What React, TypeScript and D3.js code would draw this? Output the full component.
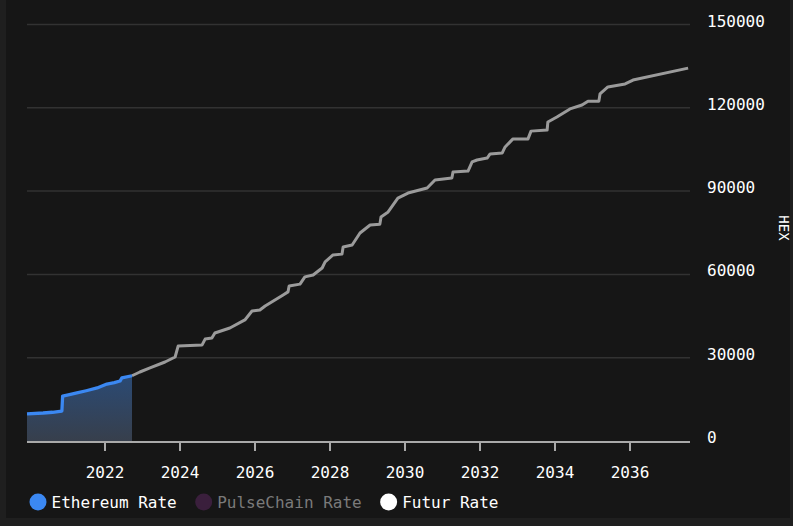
import { useMemo } from 'react';
import * as d3 from 'd3';

// Ethereum (realised) rate, HEX per share-unit, by fractional year
const ethYears = [2019.92, 2020.35, 2020.6, 2020.85, 2020.87, 2021.05, 2021.25, 2021.5, 2021.79, 2022.05, 2022.25, 2022.4, 2022.45, 2022.72];
const ethValues = [9800, 10080, 10350, 10800, 16200, 16700, 17300, 18100, 19100, 20500, 21000, 21600, 22700, 23500];

// Projected (future) rate
const futYears = [
  2022.72, 2022.93, 2023.2, 2023.6, 2023.87, 2023.95, 2024.59, 2024.67, 2024.85, 2024.93,
  2025.33, 2025.73, 2025.92, 2026.13, 2026.27, 2026.75, 2026.88, 2026.91, 2027.2, 2027.33,
  2027.55, 2027.79, 2027.87, 2028.08, 2028.32, 2028.35, 2028.59, 2028.8, 2029.07, 2029.33,
  2029.36, 2029.55, 2029.81, 2030.08, 2030.59, 2030.8, 2031.25, 2031.28, 2031.68, 2031.79,
  2031.92, 2032.19, 2032.27, 2032.59, 2032.67, 2032.88, 2033.28, 2033.36, 2033.79, 2033.81,
  2034.05, 2034.4, 2034.72, 2034.88, 2035.17, 2035.2, 2035.41, 2035.87, 2036.08, 2037.55,
];
const futValues = [
  23500, 24850, 26300, 28450, 30250, 34200, 34600, 36700, 37100, 38900,
  40700, 43600, 46800, 47200, 48600, 52600, 53700, 55800, 56500, 59100,
  59800, 62300, 64500, 67000, 67300, 69900, 70600, 74900, 77800, 78100,
  80700, 82500, 87500, 89300, 91100, 94000, 94700, 96900, 97200, 100500,
  101200, 101900, 103400, 103700, 105900, 108800, 108800, 111600, 112000, 114900,
  116700, 119600, 121000, 122400, 122400, 125000, 127500, 128600, 130000, 134300,
];

const xTicks = [2022, 2024, 2026, 2028, 2030, 2032, 2034, 2036];
const yTicks = [0, 30000, 60000, 90000, 120000, 150000];

const legendLabels = ['Ethereum Rate', 'PulseChain Rate', 'Futur Rate'];
const legendColors = ['#3b88f2', '#3a1f3c', '#ffffff'];
const legendTextColors = ['#ffffff', '#7a7a7a', '#ffffff'];

const W = 793;
const H = 526;
const FONT = '"DejaVu Sans Mono", "Liberation Mono", monospace';

export default function App() {
  const margin = { left: 27, right: 103, top: 24.5, bottom: 85 };

  const x = d3.scaleLinear().domain([2019.92, 2037.6]).range([margin.left, W - margin.right]);
  const y = d3.scaleLinear().domain([0, 150000]).range([H - margin.bottom, margin.top]);

  const eth = ethYears.map((t, i) => [t, ethValues[i]] as [number, number]);
  const fut = futYears.map((t, i) => [t, futValues[i]] as [number, number]);

  const line = d3
    .line<[number, number]>()
    .x((d) => x(d[0]))
    .y((d) => y(d[1]));

  const area = d3
    .area<[number, number]>()
    .x((d) => x(d[0]))
    .y0(y(0))
    .y1((d) => y(d[1]));

  // legend flow: circle, label, gap
  const charW = 9.63;
  const legend = useMemo(() => {
    let cx = 38;
    return legendLabels.map((label, i) => {
      const item = { label, cx, tx: cx + 13.5, color: legendColors[i], textColor: legendTextColors[i] };
      cx = item.tx + label.length * charW + 27;
      return item;
    });
  }, []);

  const axisY = y(0);

  return (
    <div style={{ position: 'fixed', left: 0, top: 0, width: W, height: H }}>
      <svg width={W} height={H} style={{ display: 'block' }}>
        <defs>
          <linearGradient id="ethFill" x1="0" y1="0" x2="0" y2="1">
            <stop offset="0%" stopColor="#2b4a74" />
            <stop offset="100%" stopColor="#373f4c" />
          </linearGradient>
        </defs>
        <rect x={0} y={0} width={W} height={H} fill="#1f1f1f" />
        <rect x={6} y={0} width={784} height={518} fill="#161616" />

        {/* grid */}
        {yTicks.slice(1).map((t) => (
          <line key={t} x1={x.range()[0]} x2={x.range()[1]} y1={y(t)} y2={y(t)} stroke="#323232" strokeWidth={1.5} />
        ))}

        {/* Ethereum area */}
        <path d={area(eth) ?? ''} fill="url(#ethFill)" />

        {/* future line */}
        <path d={line(fut) ?? ''} fill="none" stroke="#9b9b9b" strokeWidth={3} strokeLinejoin="round" />
        {/* ethereum line */}
        <path d={line(eth) ?? ''} fill="none" stroke="#3b88f2" strokeWidth={3.3} strokeLinejoin="round" />

        {/* x axis */}
        <line x1={x.range()[0]} x2={x.range()[1]} y1={axisY + 1} y2={axisY + 1} stroke="#a9a9a9" strokeWidth={2} />
        {xTicks.map((t) => (
          <g key={t}>
            <line x1={x(t)} x2={x(t)} y1={axisY + 1} y2={axisY + 10} stroke="#a9a9a9" strokeWidth={2} />
            <text x={x(t)} y={axisY + 37} fill="#ffffff" fontFamily={FONT} fontSize={16} textAnchor="middle">
              {t}
            </text>
          </g>
        ))}

        {/* y labels (right) */}
        {yTicks.map((t) => (
          <text key={t} x={707} y={y(t) + 2} fill="#ffffff" fontFamily={FONT} fontSize={16}>
            {t}
          </text>
        ))}
        <text
          x={0}
          y={0}
          transform={`translate(779,228) rotate(90)`}
          fill="#ffffff"
          fontFamily={FONT}
          fontSize={14}
          textAnchor="middle"
        >
          HEX
        </text>

        {/* legend */}
        {legend.map((it) => (
          <g key={it.label}>
            <circle cx={it.cx} cy={502} r={8.5} fill={it.color} />
            <text x={it.tx} y={508} fill={it.textColor} fontFamily={FONT} fontSize={16}>
              {it.label}
            </text>
          </g>
        ))}
      </svg>
    </div>
  );
}
